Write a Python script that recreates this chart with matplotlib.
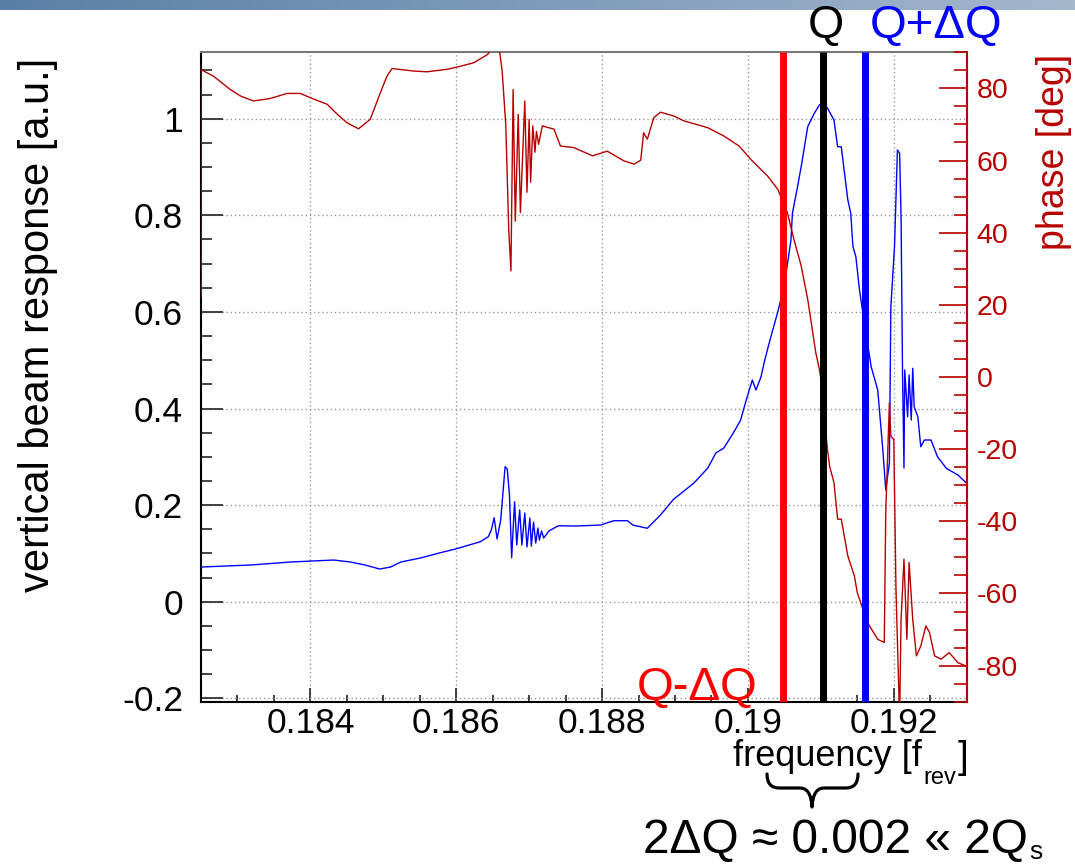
import numpy as np
import matplotlib
matplotlib.use("Agg")
import matplotlib.pyplot as plt
from matplotlib.path import Path
from matplotlib.patches import PathPatch
from matplotlib.colors import LinearSegmentedColormap
from matplotlib.ticker import MultipleLocator, FixedLocator, FixedFormatter

plt.rcParams['font.family'] = ['Liberation Sans', 'DejaVu Sans']

amp_freq = [0.18250, 0.18318, 0.18373, 0.18432, 0.18455, 0.18475, 0.18495, 0.18510,
            0.18524, 0.18551, 0.18578, 0.18599, 0.18633, 0.18644, 0.18648, 0.18652,
            0.18656, 0.18661, 0.18667, 0.18670, 0.18673, 0.18676, 0.18680, 0.18683,
            0.18687, 0.18690, 0.18694, 0.18697, 0.18701, 0.18703, 0.18706, 0.18709,
            0.18712, 0.18714, 0.18717, 0.18720, 0.18727, 0.18740, 0.18764, 0.18798,
            0.18816, 0.18835, 0.18842, 0.18862, 0.18880, 0.18898, 0.18926, 0.18945,
            0.18956, 0.18967, 0.18981, 0.18990, 0.18997, 0.19006, 0.19011, 0.19018,
            0.19022, 0.19029, 0.19041, 0.19045, 0.19053, 0.19059, 0.19061, 0.19068,
            0.19073, 0.19082, 0.19091, 0.19098, 0.19103, 0.19109, 0.19118, 0.19123,
            0.19128, 0.19137, 0.19141, 0.19144, 0.19148, 0.19153, 0.19155, 0.19164,
            0.19169, 0.19178, 0.19185, 0.19189, 0.19194, 0.19196, 0.19201, 0.19205,
            0.19208, 0.19210, 0.19212, 0.19214, 0.19215, 0.19219, 0.19221, 0.19224,
            0.19226, 0.19228, 0.19233, 0.19237, 0.19242, 0.19251, 0.19260, 0.19272,
            0.19288, 0.19300]
amp_value = [0.0718, 0.0760, 0.0822, 0.0863, 0.0822, 0.0760, 0.0677, 0.0718,
             0.0822, 0.0905, 0.1014, 0.1091, 0.1242, 0.1346, 0.1480, 0.1739,
             0.1298, 0.1692, 0.2795, 0.2747, 0.2209, 0.0911, 0.2070, 0.1174,
             0.1899, 0.1174, 0.1836, 0.1133, 0.1733, 0.1153, 0.1650, 0.1215,
             0.1526, 0.1277, 0.1464, 0.1319, 0.1464, 0.1573, 0.1567, 0.1588,
             0.1677, 0.1677, 0.1588, 0.1520, 0.1795, 0.2120, 0.2458, 0.2768,
             0.3079, 0.3182, 0.3520, 0.3762, 0.4141, 0.4590, 0.4383, 0.4658,
             0.4936, 0.5350, 0.6004, 0.6246, 0.6867, 0.7489, 0.8041, 0.8592,
             0.9006, 0.9834, 1.0112, 1.0284, 1.0325, 1.0222, 0.9973, 0.9420,
             0.9420, 0.8317, 0.8041, 0.7350, 0.7143, 0.6453, 0.6246, 0.5350,
             0.4865, 0.4383, 0.3141, 0.2313, 0.2872, 0.6108, 0.7350, 0.9352,
             0.9284, 0.7971, 0.4729, 0.2768, 0.4797, 0.3830, 0.4694, 0.3762,
             0.4832, 0.4037, 0.3830, 0.3209, 0.3348, 0.3348, 0.3002, 0.2762,
             0.2623, 0.2451]

phase_freq = [0.18250, 0.18250, 0.18267, 0.18290, 0.18304, 0.18322, 0.18345, 0.18368,
              0.18386, 0.18405, 0.18423, 0.18437, 0.18450, 0.18466, 0.18482, 0.18496,
              0.18505, 0.18512, 0.18542, 0.18560, 0.18588, 0.18601, 0.18624, 0.18643,
              0.18649, 0.18659, 0.18663, 0.18668, 0.18672, 0.18675, 0.18678, 0.18681,
              0.18685, 0.18688, 0.18694, 0.18697, 0.18700, 0.18702, 0.18705, 0.18708,
              0.18710, 0.18713, 0.18718, 0.18734, 0.18743, 0.18761, 0.18787, 0.18807,
              0.18830, 0.18844, 0.18853, 0.18857, 0.18862, 0.18871, 0.18880, 0.18899,
              0.18912, 0.18945, 0.18967, 0.18988, 0.19004, 0.19027, 0.19041, 0.19054,
              0.19063, 0.19073, 0.19082, 0.19093, 0.19098, 0.19100, 0.19109, 0.19112,
              0.19118, 0.19123, 0.19128, 0.19137, 0.19146, 0.19150, 0.19164, 0.19178,
              0.19187, 0.19189, 0.19194, 0.19196, 0.19200, 0.19203, 0.19208, 0.19210,
              0.19214, 0.19218, 0.19221, 0.19226, 0.19231, 0.19237, 0.19244, 0.19249,
              0.19256, 0.19265, 0.19276, 0.19288, 0.19299]
phase_value = [22.1, 85.2, 83.4, 79.7, 77.9, 76.5, 77.2, 78.6,
               78.6, 77.0, 75.6, 72.8, 70.5, 68.8, 71.4, 78.8,
               83.4, 85.5, 84.8, 84.6, 85.3, 85.9, 87.1, 89.4,
               91.0, 91.0, 84.8, 69.6, 40.9, 29.4, 79.7, 43.2,
               72.8, 45.6, 76.5, 51.2, 71.4, 54.0, 69.6, 62.3,
               68.1, 64.5, 69.6, 68.7, 64.0, 63.6, 61.3, 62.6,
               59.9, 59.0, 60.1, 67.7, 65.9, 71.9, 73.4, 72.3,
               71.0, 69.1, 66.8, 64.0, 60.3, 55.7, 52.0, 45.6,
               38.2, 30.8, 21.5, 6.8, 2.1, -0.6, -20.0, -24.7,
               -29.3, -39.4, -39.4, -49.6, -55.2, -59.8, -68.1, -72.7,
               -73.6, -37.5, -7.1, -16.4, -17.3, -58.8, -95.0, -67.2,
               -50.5, -72.7, -51.4, -67.2, -77.3, -74.6, -69.0, -70.8,
               -77.3, -78.2, -76.4, -79.2, -80.1]

line_freq = [0.19048, 0.19103, 0.19160]
line_colors = ['#ff0000', '#000000', '#0000ff']

x_major = [0.184, 0.186, 0.188, 0.190, 0.192]
x_labels = ['0.184', '0.186', '0.188', '0.19', '0.192']
y_major = [-0.2, 0.0, 0.2, 0.4, 0.6, 0.8, 1.0]
y_labels = ['-0.2', '0', '0.2', '0.4', '0.6', '0.8', '1']
p_major = [-80, -60, -40, -20, 0, 20, 40, 60, 80]
p_labels = ['-80', '-60', '-40', '-20', '0', '20', '40', '60', '80']

# ---------------- figure ----------------
W, H = 1075, 864
fig = plt.figure(figsize=(W / 100, H / 100), dpi=100)
fig.patch.set_facecolor('white')

def fx(px):
    return px / W

def fy(py):
    return 1 - py / H

# header gradient bar
hax = fig.add_axes([0, fy(10), 1, 10 / H])
cmap = LinearSegmentedColormap.from_list('hdr', ['#5a7fa6', '#a3b7cd'])
hax.imshow(np.linspace(0, 1, 256)[None, :], aspect='auto', cmap=cmap,
           extent=[0, 1, 0, 1])
hax.set_axis_off()

left, right, top, bottom = 201, 966.7, 52.3, 701.7
ax = fig.add_axes([fx(left), fy(bottom), fx(right - left), (bottom - top) / H])
ax.set_xlim(0.1825, 0.193)
ax.set_ylim(-0.207, 1.1375)

red_dark = '#b80000'

ax.plot(amp_freq, amp_value, color='#0000ff', lw=1.0, zorder=3)

ax.xaxis.set_major_locator(FixedLocator(x_major))
ax.xaxis.set_major_formatter(FixedFormatter(x_labels))
ax.xaxis.set_minor_locator(MultipleLocator(0.0005))
ax.yaxis.set_major_locator(FixedLocator(y_major))
ax.yaxis.set_major_formatter(FixedFormatter(y_labels))
ax.yaxis.set_minor_locator(MultipleLocator(0.05))

ax.grid(True, which='major', color='#999999', ls=(0, (1, 2)), lw=1.0)
ax.tick_params(axis='x', which='major', direction='in', length=10, width=1.2,
               labelsize=25.5, pad=4, colors='#222222', top=False)
ax.tick_params(axis='x', which='minor', direction='in', length=5, width=1.2,
               colors='#222222', top=False)
ax.tick_params(axis='y', which='major', direction='in', length=16, width=1.2,
               labelsize=25.5, pad=13, colors='#222222', right=False)
ax.tick_params(axis='y', which='minor', direction='in', length=8, width=1.2,
               colors='#222222', right=False)
for lab in ax.get_xticklabels() + ax.get_yticklabels():
    lab.set_color('black')

ax.spines['left'].set_color('black')
ax.spines['bottom'].set_color('black')
ax.spines['top'].set_color('#777777')
ax.spines['right'].set_visible(False)
for s in ['left', 'bottom', 'top']:
    ax.spines[s].set_linewidth(1.5)

ax2 = ax.twinx()
ax2.set_ylim(-90, 90)
ax2.plot(phase_freq, phase_value, color=red_dark, lw=1.0, zorder=3)
ax2.yaxis.set_major_locator(FixedLocator(p_major))
ax2.yaxis.set_major_formatter(FixedFormatter(p_labels))
ax2.yaxis.set_minor_locator(MultipleLocator(5))
ax2.tick_params(axis='y', which='major', direction='in', length=20, width=1.2,
                labelsize=20.5, pad=7, colors=red_dark)
ax2.tick_params(axis='y', which='minor', direction='in', length=9.5, width=1.2,
                colors=red_dark)
ax2.spines['right'].set_color(red_dark)
ax2.spines['right'].set_linewidth(1.5)
for s in ['left', 'bottom', 'top']:
    ax2.spines[s].set_visible(False)

for f, c in zip(line_freq, line_colors):
    ax2.axvline(f, color=c, lw=5, zorder=5, solid_capstyle='butt')

# ---------------- texts ----------------
fig.text(fx(38), fy(325), 'vertical beam response [a.u.]', rotation=90,
         ha='center', va='center', fontsize=30, color='black')
fig.text(fx(1054), fy(152), 'phase [deg]', rotation=90,
         ha='center', va='center', fontsize=27, color=red_dark)
fig.text(fx(808), fy(38), 'Q', ha='left', va='baseline', fontsize=33.5,
         color='black')
fig.text(fx(870), fy(38), 'Q+ΔQ', ha='left', va='baseline', fontsize=34,
         color='#0000ff')
fig.text(fx(637), fy(700), 'Q-ΔQ', ha='left', va='baseline', fontsize=34,
         color='#ff0000')

# x axis title: frequency [f_rev]
fig.text(fx(922), fy(766), 'frequency [f', ha='right', va='baseline',
         fontsize=26, color='black')
fig.text(fx(923), fy(784), 'rev', ha='left', va='baseline',
         fontsize=17, color='black')
fig.text(fx(958), fy(768), ']', ha='left', va='baseline',
         fontsize=28, color='black')

# annotation: 2ΔQ ≈ 0.002 « 2Q_s
fig.text(fx(643), fy(853), '2ΔQ ≈ 0.002 « 2Q', ha='left', va='baseline',
         fontsize=34.5, color='black')
fig.text(fx(1029), fy(859), 's', ha='left', va='baseline',
         fontsize=19, color='black')

# curly brace
def P(x, y):
    return (fx(x), fy(y))

verts = [P(767, 774), P(767, 788), P(779, 788),
         P(800, 788), P(811, 788), P(812, 807),
         P(813, 788), P(824, 788),
         P(846, 788), P(858, 788), P(858, 774)]
codes = [Path.MOVETO, Path.CURVE3, Path.CURVE3,
         Path.LINETO, Path.CURVE3, Path.CURVE3,
         Path.CURVE3, Path.CURVE3,
         Path.LINETO, Path.CURVE3, Path.CURVE3]
brace = PathPatch(Path(verts, codes), transform=fig.transFigure,
                  facecolor='none', edgecolor='black', lw=2.3,
                  capstyle='round', joinstyle='round')
fig.add_artist(brace)

fig.savefig('out.png', dpi=100)
